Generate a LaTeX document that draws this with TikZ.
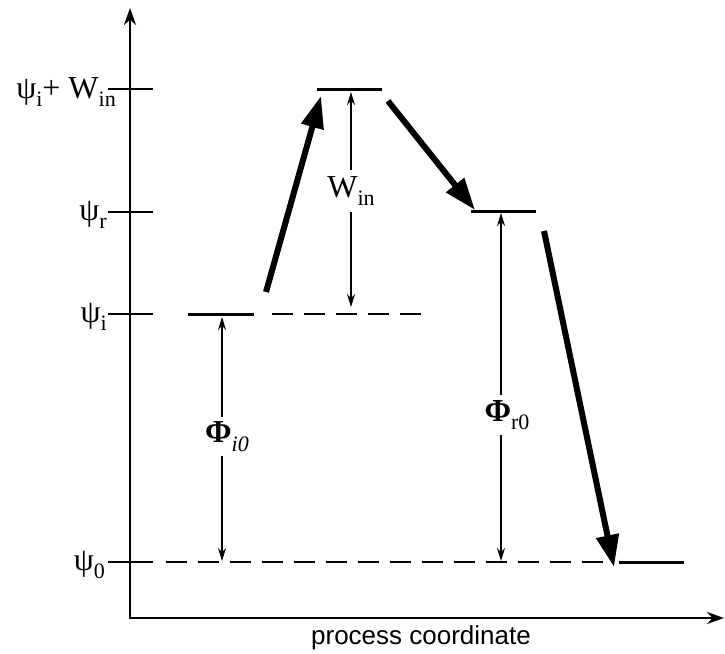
\documentclass[tikz,border=0pt]{standalone}
\usepackage{fontspec}
\setmainfont{Liberation Serif}
\setsansfont{Liberation Sans}
\usetikzlibrary{arrows.meta,positioning}
\newcommand{\lowsub}[1]{\raisebox{-0.26em}{\fontsize{22}{22}\selectfont #1}}

\begin{document}
\begin{tikzpicture}[x=1pt, y=-1pt,
    axis/.style={line width=2.6pt, line join=miter},
    level/.style={line width=3pt},
    dlevel/.style={line width=2.2pt, dash pattern=on 21pt off 11pt},
    gap/.style={line width=1.5pt, {Stealth[length=13pt,width=8pt]}-{Stealth[length=13pt,width=8pt]}},
    jump/.style={line width=6pt, -{Triangle[length=32pt,width=22pt]}},
    lbl/.style={font=\fontsize{32}{36}\selectfont, inner sep=1pt},
    ylbl/.style={lbl, anchor=east}]
  \useasboundingbox (0,0) rectangle (725,653);

  % axes
  \coordinate (O) at (130,618);
  \coordinate (ytop) at (130,8);
  \coordinate (xend) at (724,618);
  \draw[axis, {Stealth[length=17pt,width=12pt]}-{Stealth[length=17pt,width=12pt]}] (ytop) -- (O) -- (xend);
  \node[font=\sffamily\fontsize{26}{30}\selectfont] (xlab) at (421,638) {process coordinate};

  % ticks and their labels
  \foreach \name/\yy in {top/89, r/212, i/314, zero/562}
    \draw[axis] (108,\yy) coordinate (t\name) -- (153,\yy);
  \node[ylbl] (ltop) at ([xshift=9pt,yshift=-3pt]ttop) {ψ\lowsub{i}+ W\lowsub{in}};
  \node[ylbl] (lr) at ([yshift=-3pt]tr) {ψ\lowsub{r}};
  \node[ylbl] (li) at ([yshift=-3pt]ti) {ψ\lowsub{i}};
  \node[ylbl] (lzero) at ([xshift=-2pt,yshift=-3pt]tzero) {ψ\lowsub{0}};

  % energy levels
  \coordinate (top1) at (317,89);  \coordinate (top2) at (382,89);
  \coordinate (i1) at (188,314);   \coordinate (i2) at (254,314);
  \coordinate (id1) at (272,314);  \coordinate (id2) at (425,314);
  \coordinate (r1) at (471,211);   \coordinate (r2) at (536,211);
  \coordinate (z0) at (166,562);   \coordinate (z1) at (605,562);
  \coordinate (z2) at (619,562);   \coordinate (z3) at (684,562);
  \draw[level] (top1) -- (top2);
  \draw[level] (i1) -- (i2);
  \draw[dlevel] (id1) -- (id2);
  \draw[level] (r1) -- (r2);
  \draw[dlevel] (z0) -- (z1);
  \draw[level] (z2) -- (z3);

  % gaps
  \coordinate (wA) at (351,92);   \coordinate (wB) at (351,307);
  \coordinate (fiA) at (222,317); \coordinate (fiB) at (222,561);
  \coordinate (frA) at (501,213); \coordinate (frB) at (501,561);
  \draw[gap] (wA) -- node[lbl, fill=white, inner sep=6pt, pos=0.46] (lw) {W\lowsub{in}} (wB);
  \draw[gap] (fiA) -- node[lbl, fill=white, inner sep=5pt, pos=0.49, xshift=5pt] (lfi) {\textbf{Φ}\lowsub{\itshape i0}} (fiB);
  \draw[gap] (frA) -- node[lbl, fill=white, inner sep=5pt, pos=0.58, xshift=6pt] (lfr) {\textbf{Φ}\lowsub{r0}} (frB);

  % process steps
  \coordinate (s1) at (266,292); \coordinate (s2) at (321,96);
  \coordinate (s3) at (388,101); \coordinate (s4) at (475,210);
  \coordinate (s5) at (544,231); \coordinate (s6) at (614,567);
  \draw[jump] (s1) -- (s2);
  \draw[jump] (s3) -- (s4);
  \draw[jump] (s5) -- (s6);
\end{tikzpicture}
\end{document}
